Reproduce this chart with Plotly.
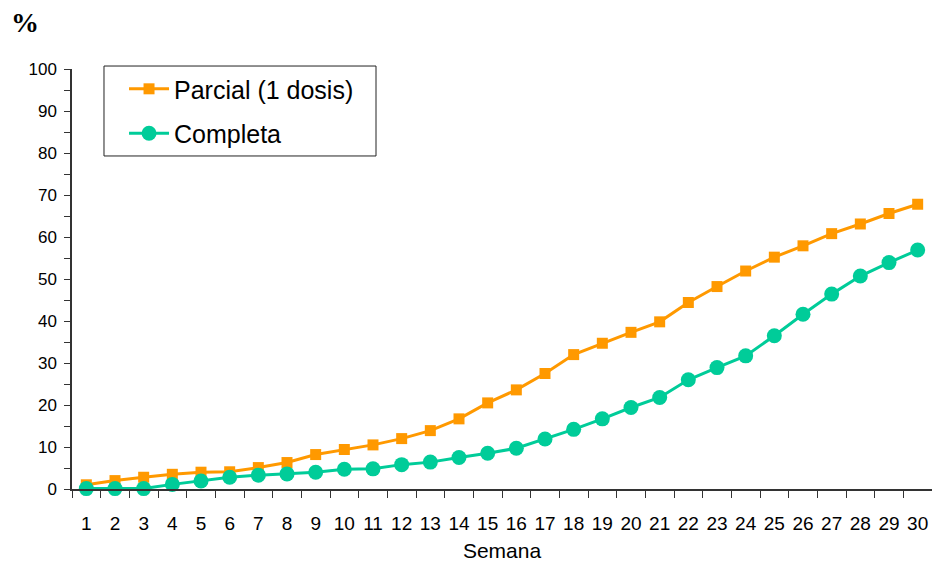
import plotly.graph_objects as go

semanas = [str(i) for i in range(1, 31)]
parcial = [1.0, 2.0, 2.8, 3.5, 4.0, 4.1, 5.1, 6.3, 8.2, 9.4,
           10.5, 12.0, 13.9, 16.7, 20.5, 23.6, 27.5, 32.0, 34.7, 37.3,
           39.8, 44.4, 48.2, 51.9, 55.2, 57.9, 60.8, 63.1, 65.6, 67.8]
completa = [0.1, 0.1, 0.1, 1.1, 1.9, 2.8, 3.3, 3.6, 4.0, 4.7,
            4.8, 5.8, 6.4, 7.5, 8.5, 9.7, 11.9, 14.2, 16.7, 19.4,
            21.8, 26.0, 28.9, 31.7, 36.5, 41.6, 46.4, 50.7, 53.9, 56.9]
y_ticks = [0, 10, 20, 30, 40, 50, 60, 70, 80, 90, 100]

ORANGE = "#FF9900"
GREEN = "#00CC99"
FONT = "Liberation Sans, Arial, sans-serif"

fig = go.Figure()
fig.add_trace(go.Scatter(
    x=semanas, y=parcial, name="Parcial (1 dosis)", mode="lines+markers",
    line=dict(color=ORANGE, width=3),
    marker=dict(symbol="square", size=11, color=ORANGE),
    cliponaxis=False, legendgroup="a"))
fig.add_trace(go.Scatter(
    x=semanas, y=completa, name="Completa", mode="lines+markers",
    line=dict(color=GREEN, width=3),
    marker=dict(symbol="circle", size=15, color=GREEN),
    cliponaxis=False, legendgroup="b"))

fig.update_layout(
    width=932, height=562,
    margin=dict(l=72, r=0, t=69, b=73),
    paper_bgcolor="white", plot_bgcolor="white",
    font=dict(family=FONT, color="black"),
    showlegend=True,
    legend=dict(
        x=0.0605, y=1.007, xanchor="left", yanchor="top",
        borderwidth=0, bgcolor="rgba(0,0,0,0)",
        font=dict(size=25, family=FONT, color="black"),
        itemwidth=40, traceorder="grouped", tracegroupgap=9,
    ),
    xaxis=dict(
        type="category", range=[-0.5, 29.5],
        showgrid=False, zeroline=False,
        showline=True, linecolor="#333333", linewidth=1.5,
        ticks="outside", ticklen=7, tickcolor="#333333", tickwidth=1.2,
        tickson="boundaries", tickangle=0,
        tickfont=dict(size=19, family=FONT, color="black"),
        ticklabelstandoff=16,
        title=dict(text="Semana", font=dict(size=21, family=FONT, color="black"), standoff=11),
    ),
    yaxis=dict(
        range=[0, 100], showgrid=False, zeroline=False,
        showline=True, linecolor="#333333", linewidth=1.5,
        tickmode="array", tickvals=y_ticks,
        ticks="outside", ticklen=6, tickcolor="#333333", tickwidth=1.2,
        minor=dict(dtick=5, ticks="outside", ticklen=6, tickcolor="#333333", tickwidth=1.2, showgrid=False),
        tickfont=dict(size=17, family=FONT, color="black"),
        ticklabelstandoff=4,
    ),
)

fig.add_shape(
    type="rect", xref="paper", yref="paper",
    x0=0.0372, x1=0.3535, y0=0.7929, y1=1.0071,
    line=dict(color="#222222", width=1), fillcolor="white", layer="below",
)

fig.add_annotation(
    text="<b>%</b>", xref="paper", yref="paper",
    x=-0.073, y=1.152, xanchor="left", yanchor="top", showarrow=False,
    font=dict(size=28, family="Liberation Serif, Times New Roman, serif", color="black"),
)

fig.write_html("out.html")
